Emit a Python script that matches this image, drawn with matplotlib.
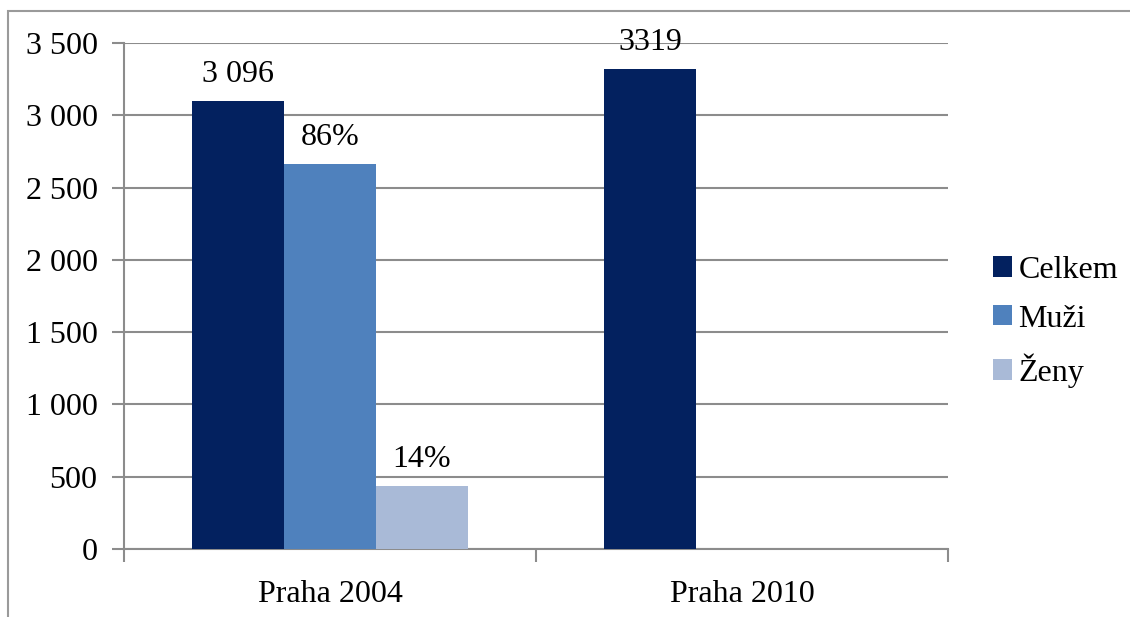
import matplotlib.pyplot as plt
from matplotlib.patches import Rectangle
from matplotlib.ticker import FuncFormatter
import numpy as np

plt.rcParams['font.family'] = ['Liberation Serif', 'DejaVu Serif']

kategorie = ['Praha 2004', 'Praha 2010']
serie = ['Celkem', 'Muži', 'Ženy']
hodnoty = {
    'Celkem': [3096, 3319],
    'Muži': [2663, np.nan],
    'Ženy': [433, np.nan],
}
popisky = {
    'Celkem': ['3 096', '3319'],
    'Muži': ['86%', ''],
    'Ženy': ['14%', ''],
}
barvy = {'Celkem': '#03215F', 'Muži': '#4F81BD', 'Ženy': '#A9BAD7'}

sedá = '#8C8C8C'
fs = 23

fig = plt.figure(figsize=(11.3, 6.17), dpi=100)
# ramecek kolem grafu
fig.patches.append(Rectangle((8 / 1130, -0.05), 1.2, 1 - 11 / 617 + 0.05,
                             transform=fig.transFigure, fill=False,
                             edgecolor='#9A9A9A', linewidth=1.5))

ax = fig.add_axes([124 / 1130, 1 - 549 / 617, (948 - 124) / 1130, (549 - 43) / 617])

x = np.array([0.5, 1.5])
sirka = 92 / 412
for i, s in enumerate(serie):
    pos = x + (i - 1) * sirka
    ax.bar(pos, hodnoty[s], width=sirka, color=barvy[s], label=s, zorder=3)
    for px, v, t in zip(pos, hodnoty[s], popisky[s]):
        if t and not np.isnan(v):
            ax.annotate(t, (px, v), xytext=(0, 9), textcoords='offset points',
                        ha='center', va='bottom', fontsize=fs)

ax.set_xlim(0, 2)
ax.set_ylim(0, 3500)
ax.set_yticks(np.arange(0, 3501, 500))
ax.yaxis.set_major_formatter(FuncFormatter(lambda v, p: f'{int(v):,}'.replace(',', ' ')))
ax.yaxis.grid(True, color=sedá, linewidth=1.5, zorder=0)
ax.set_axisbelow(True)

ax.set_xticks([0, 1, 2])
ax.set_xticklabels([])
ax.set_xticks(x, minor=True)
ax.set_xticklabels(kategorie, minor=True)
ax.tick_params(axis='x', which='minor', length=0, pad=22, labelsize=fs)
ax.tick_params(axis='x', which='major', length=9, width=1.5, color=sedá)
ax.tick_params(axis='y', length=9, width=1.5, color=sedá, labelsize=fs, pad=10)

for k in ['top', 'right']:
    ax.spines[k].set_visible(False)
for k in ['left', 'bottom']:
    ax.spines[k].set_color(sedá)
    ax.spines[k].set_linewidth(1.5)

ax.legend(loc='center left', bbox_to_anchor=(1.035, 0.449), frameon=False,
          fontsize=fs, handlelength=0.6, handleheight=0.6, handletextpad=0.2,
          labelspacing=0.62, borderpad=0)

fig.savefig('out.png', dpi=100)
